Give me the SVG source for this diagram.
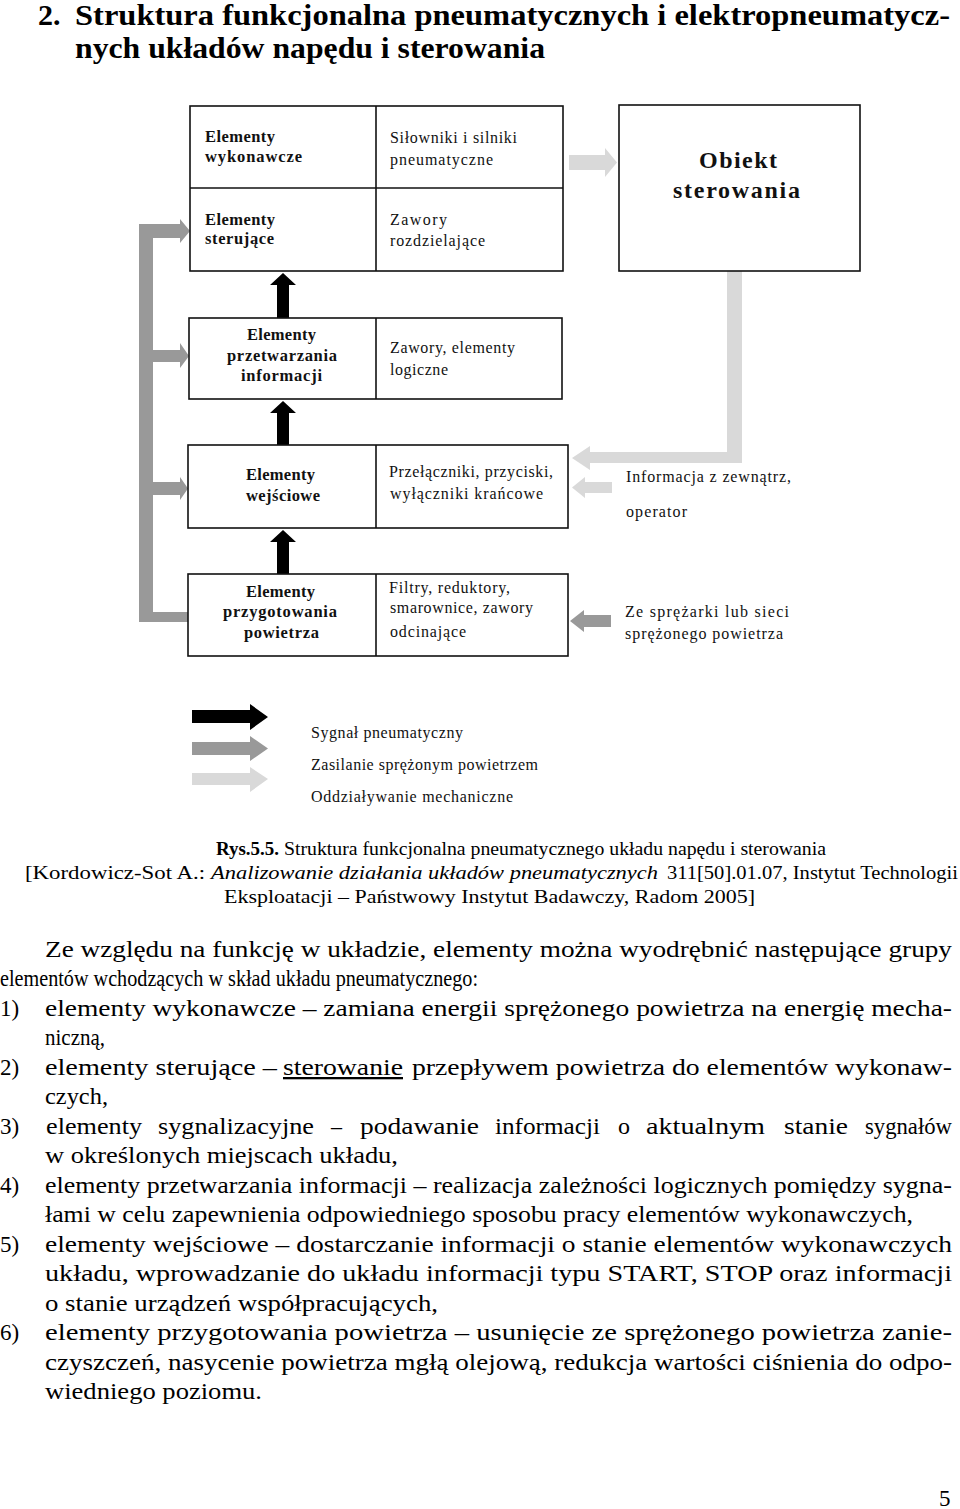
<svg xmlns="http://www.w3.org/2000/svg" width="960" height="1509" viewBox="0 0 960 1509">
<style>
.box{fill:#fff;stroke:#111;stroke-width:1.6}
.div{stroke:#111;stroke-width:1.6}
.bl{font-family:"Liberation Serif","DejaVu Serif",serif;font-weight:bold;font-size:16.5px;fill:#111}
.rg{font-family:"Liberation Serif","DejaVu Serif",serif;font-size:16px;fill:#111}
.ob{font-family:"Liberation Serif","DejaVu Serif",serif;font-weight:bold;font-size:24px;fill:#111}
.title{font-family:"Liberation Serif","DejaVu Serif",serif;font-weight:bold;font-size:30px;fill:#000}
.cap{font-family:"Liberation Serif","DejaVu Serif",serif;font-size:19px;fill:#000}
.body{font-family:"Liberation Serif","DejaVu Serif",serif;font-size:23px;fill:#000}
.blk{fill:#000}
.mid{fill:#999}
.lt{fill:#d9d9d9}
</style>

<g id="title">
<text class="title" x="38" y="25">2.</text>
<text class="title" x="75" y="25" textLength="875" lengthAdjust="spacingAndGlyphs">Struktura funkcjonalna pneumatycznych i elektropneumatycz-</text>
<text class="title" x="75" y="58" textLength="470" lengthAdjust="spacingAndGlyphs">nych układów napędu i sterowania</text>
</g>

<g id="connectors">
<polygon class="lt" points="569,155 605,155 605,148 617,162.5 605,177 605,170 569,170"/>
<polygon class="lt" points="727,271 742,271 742,463 590,463 590,470 572,458 590,446 590,452 727,452"/>
<polygon class="lt" points="612,482 585,482 585,477 572,487.5 585,498 585,493 612,493"/>
<polygon class="mid" points="611,615 584,615 584,610 570,621 584,632 584,627 611,627"/>
<polygon class="blk" points="277,318 277,285 270,285 283,273 296,285 289,285 289,318"/>
<polygon class="blk" points="277,445 277,413 270,413 283,401 296,413 289,413 289,445"/>
<polygon class="blk" points="277,574 277,542 270,542 283,530 296,542 289,542 289,574"/>
<polygon class="mid" points="139,224 180,224 180,219 190,231 180,243 180,238 153,238 153,350 180,350 180,343 189,356 180,368 180,362 153,362 153,482 180,482 180,477 188,488.5 180,500 180,495 153,495 153,612 188,612 188,622 139,622"/>
</g>

<g id="node-wykonawcze-sterujace">
<rect class="box" x="190" y="106" width="373" height="165"/>
<line class="div" x1="376" y1="106" x2="376" y2="271"/>
<line class="div" x1="190" y1="188" x2="563" y2="188"/>
<text class="bl" x="205" y="142" textLength="70" lengthAdjust="spacing">Elementy</text>
<text class="bl" x="205" y="162" textLength="97" lengthAdjust="spacing">wykonawcze</text>
<text class="rg" x="390" y="143" textLength="127" lengthAdjust="spacing">Siłowniki i silniki</text>
<text class="rg" x="390" y="165" textLength="103" lengthAdjust="spacing">pneumatyczne</text>
<text class="bl" x="205" y="225" textLength="70" lengthAdjust="spacing">Elementy</text>
<text class="bl" x="205" y="244" textLength="69" lengthAdjust="spacing">sterujące</text>
<text class="rg" x="390" y="225" textLength="57" lengthAdjust="spacing">Zawory</text>
<text class="rg" x="390" y="246" textLength="95" lengthAdjust="spacing">rozdzielające</text>
</g>

<g id="node-obiekt">
<rect class="box" x="619" y="105" width="241" height="166"/>
<text class="ob" x="699" y="168" textLength="78" lengthAdjust="spacing">Obiekt</text>
<text class="ob" x="673" y="198" textLength="127" lengthAdjust="spacing">sterowania</text>
</g>

<g id="node-przetwarzania">
<rect class="box" x="189" y="318" width="373" height="81"/>
<line class="div" x1="376" y1="318" x2="376" y2="399"/>
<text class="bl" x="247" y="340" textLength="69" lengthAdjust="spacing">Elementy</text>
<text class="bl" x="227" y="361" textLength="110" lengthAdjust="spacing">przetwarzania</text>
<text class="bl" x="241" y="381" textLength="81" lengthAdjust="spacing">informacji</text>
<text class="rg" x="390" y="353" textLength="125" lengthAdjust="spacing">Zawory, elementy</text>
<text class="rg" x="390" y="375" textLength="58" lengthAdjust="spacing">logiczne</text>
</g>

<g id="node-wejsciowe">
<rect class="box" x="188" y="445" width="380" height="83"/>
<line class="div" x1="376" y1="445" x2="376" y2="528"/>
<text class="bl" x="246" y="480" textLength="69" lengthAdjust="spacing">Elementy</text>
<text class="bl" x="246" y="501" textLength="74" lengthAdjust="spacing">wejściowe</text>
<text class="rg" x="389" y="477" textLength="164" lengthAdjust="spacing">Przełączniki, przyciski,</text>
<text class="rg" x="390" y="499" textLength="153" lengthAdjust="spacing">wyłączniki krańcowe</text>
</g>

<g id="node-przygotowania">
<rect class="box" x="188" y="574" width="380" height="82"/>
<line class="div" x1="376" y1="574" x2="376" y2="656"/>
<text class="bl" x="246" y="597" textLength="69" lengthAdjust="spacing">Elementy</text>
<text class="bl" x="223" y="617" textLength="114" lengthAdjust="spacing">przygotowania</text>
<text class="bl" x="244" y="638" textLength="75" lengthAdjust="spacing">powietrza</text>
<text class="rg" x="389" y="593" textLength="121" lengthAdjust="spacing">Filtry, reduktory,</text>
<text class="rg" x="390" y="613" textLength="143" lengthAdjust="spacing">smarownice, zawory</text>
<text class="rg" x="390" y="637" textLength="76" lengthAdjust="spacing">odcinające</text>
</g>

<g id="label-informacja">
<text class="rg" x="626" y="482" textLength="165" lengthAdjust="spacing">Informacja z zewnątrz,</text>
<text class="rg" x="626" y="517" textLength="61" lengthAdjust="spacing">operator</text>
</g>

<g id="label-sprezarka">
<text class="rg" x="625" y="617" textLength="164" lengthAdjust="spacing">Ze sprężarki lub sieci</text>
<text class="rg" x="625" y="639" textLength="158" lengthAdjust="spacing">sprężonego powietrza</text>
</g>

<g id="legend">
<polygon class="blk" points="192,710 250,710 250,704 268,717 250,730 250,723 192,723"/>
<polygon class="mid" points="192,742 250,742 250,736 268,748.5 250,761 250,755 192,755"/>
<polygon class="lt" points="192,773 250,773 250,767 268,779 250,792 250,785 192,785"/>
<text class="rg" x="311" y="738" textLength="152" lengthAdjust="spacing">Sygnał pneumatyczny</text>
<text class="rg" x="311" y="770" textLength="227" lengthAdjust="spacing">Zasilanie sprężonym powietrzem</text>
<text class="rg" x="311" y="802" textLength="202" lengthAdjust="spacing">Oddziaływanie mechaniczne</text>
</g>

<g id="caption">
<text class="cap" x="216" y="855" font-weight="bold" textLength="63" lengthAdjust="spacingAndGlyphs">Rys.5.5.</text>
<text class="cap" x="284" y="855" textLength="542" lengthAdjust="spacingAndGlyphs">Struktura funkcjonalna pneumatycznego układu napędu i sterowania</text>
<text class="cap" x="25" y="879" textLength="180" lengthAdjust="spacingAndGlyphs">[Kordowicz-Sot A.:</text>
<text class="cap" x="211" y="879" font-style="italic" textLength="447" lengthAdjust="spacingAndGlyphs">Analizowanie działania układów pneumatycznych</text>
<text class="cap" x="667" y="879" textLength="291" lengthAdjust="spacingAndGlyphs">311[50].01.07, Instytut Technologii</text>
<text class="cap" x="224" y="903" textLength="531" lengthAdjust="spacingAndGlyphs">Eksploatacji – Państwowy Instytut Badawczy, Radom 2005]</text>
</g>

<g id="body-text">
<text class="body" x="45" y="957" textLength="907" lengthAdjust="spacingAndGlyphs">Ze względu na funkcję w układzie, elementy można wyodrębnić następujące grupy</text>
<text class="body" x="0" y="986" textLength="478" lengthAdjust="spacingAndGlyphs">elementów wchodzących w skład układu pneumatycznego:</text>
<text class="body" x="0" y="1016">1)</text>
<text class="body" x="45" y="1016" textLength="907" lengthAdjust="spacingAndGlyphs">elementy wykonawcze – zamiana energii sprężonego powietrza na energię mecha-</text>
<text class="body" x="45" y="1045" textLength="60" lengthAdjust="spacingAndGlyphs">niczną,</text>
<text class="body" x="0" y="1075">2)</text>
<text class="body" x="45" y="1075" textLength="232" lengthAdjust="spacingAndGlyphs">elementy sterujące –</text>
<text class="body" x="283" y="1075" text-decoration="underline" textLength="120" lengthAdjust="spacingAndGlyphs">sterowanie</text>
<text class="body" x="412" y="1075" textLength="540" lengthAdjust="spacingAndGlyphs">przepływem powietrza do elementów wykonaw-</text>
<text class="body" x="45" y="1104" textLength="63" lengthAdjust="spacingAndGlyphs">czych,</text>
<text class="body" x="0" y="1134">3)</text>
<text class="body" x="46" y="1134" textLength="96" lengthAdjust="spacingAndGlyphs">elementy</text>
<text class="body" x="158" y="1134" textLength="156" lengthAdjust="spacingAndGlyphs">sygnalizacyjne</text>
<text class="body" x="331" y="1134" textLength="11" lengthAdjust="spacingAndGlyphs">–</text>
<text class="body" x="360" y="1134" textLength="119" lengthAdjust="spacingAndGlyphs">podawanie</text>
<text class="body" x="495" y="1134" textLength="105" lengthAdjust="spacingAndGlyphs">informacji</text>
<text class="body" x="618" y="1134" textLength="12" lengthAdjust="spacingAndGlyphs">o</text>
<text class="body" x="646" y="1134" textLength="119" lengthAdjust="spacingAndGlyphs">aktualnym</text>
<text class="body" x="784" y="1134" textLength="64" lengthAdjust="spacingAndGlyphs">stanie</text>
<text class="body" x="865" y="1134" textLength="87" lengthAdjust="spacingAndGlyphs">sygnałów</text>
<text class="body" x="45" y="1163" textLength="353" lengthAdjust="spacingAndGlyphs">w określonych miejscach układu,</text>
<text class="body" x="0" y="1193">4)</text>
<text class="body" x="45" y="1193" textLength="907" lengthAdjust="spacingAndGlyphs">elementy przetwarzania informacji – realizacja zależności logicznych pomiędzy sygna-</text>
<text class="body" x="45" y="1222" textLength="868" lengthAdjust="spacingAndGlyphs">łami w celu zapewnienia odpowiedniego sposobu pracy elementów wykonawczych,</text>
<text class="body" x="0" y="1252">5)</text>
<text class="body" x="45" y="1252" textLength="907" lengthAdjust="spacingAndGlyphs">elementy wejściowe – dostarczanie informacji o stanie elementów wykonawczych</text>
<text class="body" x="45" y="1281" textLength="907" lengthAdjust="spacingAndGlyphs">układu, wprowadzanie do układu informacji typu START, STOP oraz informacji</text>
<text class="body" x="45" y="1311" textLength="393" lengthAdjust="spacingAndGlyphs">o stanie urządzeń współpracujących,</text>
<text class="body" x="0" y="1340">6)</text>
<text class="body" x="45" y="1340" textLength="907" lengthAdjust="spacingAndGlyphs">elementy przygotowania powietrza – usunięcie ze sprężonego powietrza zanie-</text>
<text class="body" x="45" y="1370" textLength="907" lengthAdjust="spacingAndGlyphs">czyszczeń, nasycenie powietrza mgłą olejową, redukcja wartości ciśnienia do odpo-</text>
<text class="body" x="45" y="1399" textLength="217" lengthAdjust="spacingAndGlyphs">wiedniego poziomu.</text>
<text class="body" x="939" y="1506">5</text>
</g>
</svg>
